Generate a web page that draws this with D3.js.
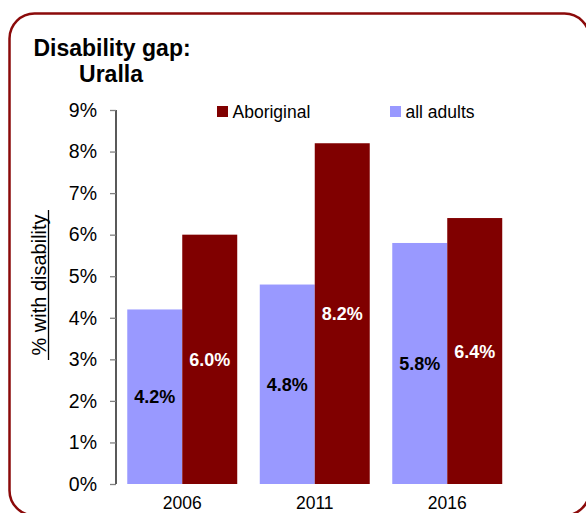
<!DOCTYPE html>
<html><head><meta charset="utf-8">
<script src="https://cdn.jsdelivr.net/npm/d3@7"></script>
<style>
html,body{margin:0;padding:0;background:#fff;}
svg{display:block;font-family:"Liberation Sans",Arial,sans-serif;}
</style></head>
<body>
<svg id="chart" width="586" height="513"></svg>
<script>
const years = ["2006", "2011", "2016"];
const seriesNames = ["all adults", "Aboriginal"];
const allAdults = [4.2, 4.8, 5.8];
const aboriginal = [6.0, 8.2, 6.4];
const yTicks = [0, 1, 2, 3, 4, 5, 6, 7, 8, 9];
const titleLines = ["Disability gap:", "Uralla"];
const yTitle = "% with disability";

const colors = {"all adults": "#9999ff", "Aboriginal": "#800000"};
const labelColors = {"all adults": "#000", "Aboriginal": "#fff"};

const svg = d3.select("#chart");

// frame
svg.append("rect").attr("x", 9.5).attr("y", 13.5).attr("width", 580).attr("height", 502)
  .attr("rx", 25).attr("ry", 25).attr("fill", "none").attr("stroke", "#8b0a0a").attr("stroke-width", 2.5);

// title
svg.append("text").attr("x", 112).attr("y", 56).attr("text-anchor", "middle")
  .attr("font-weight", "bold").attr("font-size", 23).text(titleLines[0]);
svg.append("text").attr("x", 111).attr("y", 82).attr("text-anchor", "middle")
  .attr("font-weight", "bold").attr("font-size", 23).text(titleLines[1]);

const y = d3.scaleLinear().domain([0, 9]).range([484, 110]);
const x = d3.scaleBand().domain(years).range([116, 513.5]).paddingInner(0.17).paddingOuter(0.085);
const xs = d3.scaleBand().domain(seriesNames).range([0, x.bandwidth()]);

// y axis
const yAxis = svg.append("g").attr("transform", "translate(116,0)")
  .call(d3.axisLeft(y).tickValues(yTicks).tickSize(6).tickPadding(13).tickFormat(d => d + "%"));
yAxis.select(".domain").attr("stroke", "#000").attr("stroke-width", 1.3).attr("d", `M0,${y(0)}V${y(9)}`);
yAxis.selectAll(".tick line").attr("stroke", "#808080").attr("stroke-width", 1.3);
yAxis.selectAll(".tick text").attr("font-size", 19.5).attr("fill", "#000")
  .attr("font-family", "'Liberation Sans',Arial,sans-serif");

// y title
svg.append("text").attr("transform", "translate(46,285) rotate(-90)").attr("text-anchor", "middle")
  .attr("font-size", 20).text(yTitle);
svg.append("line").attr("x1", 48.5).attr("x2", 48.5).attr("y1", 210).attr("y2", 360)
  .attr("stroke", "#000").attr("stroke-width", 1.3);

// bars
const rows = [];
years.forEach((yr, i) => {
  rows.push({year: yr, series: "all adults", value: allAdults[i]});
  rows.push({year: yr, series: "Aboriginal", value: aboriginal[i]});
});

svg.append("g").selectAll("rect").data(rows).join("rect")
  .attr("x", d => x(d.year) + xs(d.series))
  .attr("y", d => y(d.value))
  .attr("width", xs.bandwidth())
  .attr("height", d => y(0) - y(d.value))
  .attr("fill", d => colors[d.series]);

svg.append("g").selectAll("text").data(rows).join("text")
  .attr("x", d => x(d.year) + xs(d.series) + xs.bandwidth() / 2)
  .attr("y", d => (y(d.value) + y(0)) / 2)
  .attr("dy", "0.36em")
  .attr("text-anchor", "middle")
  .attr("font-weight", "bold").attr("font-size", 18)
  .attr("fill", d => labelColors[d.series])
  .text(d => d.value.toFixed(1) + "%");

// x labels
svg.append("g").selectAll("text").data(years).join("text")
  .attr("x", d => x(d) + x.bandwidth() / 2).attr("y", 509)
  .attr("text-anchor", "middle").attr("font-size", 17.5).text(d => d);

// legend
const legendItems = [{name: "Aboriginal", x: 217}, {name: "all adults", x: 390}];
const lg = svg.append("g").selectAll("g").data(legendItems).join("g");
lg.append("rect").attr("x", d => d.x).attr("y", 106).attr("width", 11).attr("height", 11)
  .attr("fill", d => colors[d.name]);
lg.append("text").attr("x", d => d.x + 15.5).attr("y", 117.5).attr("font-size", 17.5).text(d => d.name);
</script>
</body></html>
